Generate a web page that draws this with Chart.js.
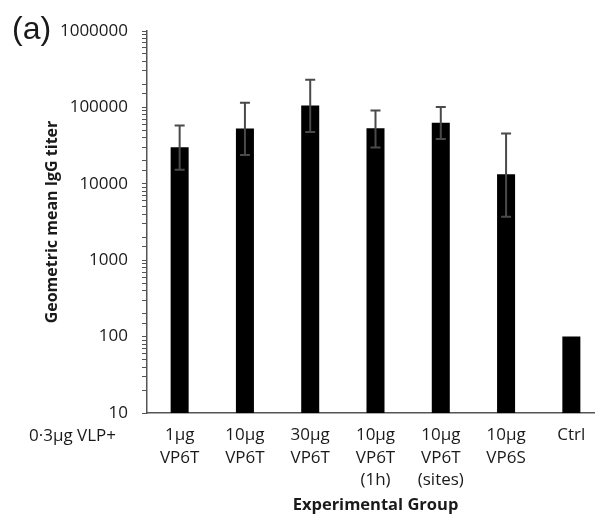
<!DOCTYPE html>
<html>
<head>
<meta charset="utf-8">
<script src="https://cdn.jsdelivr.net/npm/chart.js@4/dist/chart.umd.min.js"></script>
<style>
  html, body { margin: 0; padding: 0; background: #fff; overflow: hidden; }
  #wrap { width: 595px; height: 518px; overflow: hidden; }
  #box { width: 606px; height: 518px; }
</style>
</head>
<body>
<div id="wrap"><div id="box"><canvas id="iggChart"></canvas></div></div>
<script>
// categories (multi-line labels)
const groups = [
    ['1µg', 'VP6T'],
    ['10µg', 'VP6T'],
    ['30µg', 'VP6T'],
    ['10µg', 'VP6T', '(1h)'],
    ['10µg', 'VP6T', '(sites)'],
    ['10µg', 'VP6S'],
    ['Ctrl']
];
// geometric mean titers
const gmt = [30000, 53000, 106000, 53500, 63000, 13300, 100];
// error bar limits (null = no error bar)
const errLow  = [15300, 23800, 47500, 29900, 38500, 3700, null];
const errHigh = [58000, 115000, 230000, 91400, 101000, 45700, null];
const yTicksMajor = [10, 100, 1000, 10000, 100000, 1000000];

const textColor = '#1a1a1a';
const axisColor = '#555555';
const baseFont = 'Open Sans';

// error bars + extra labels
const extrasPlugin = {
    id: 'extras',
    afterDatasetsDraw(chart) {
        const ctx = chart.ctx;
        const xs = chart.scales.x, ys = chart.scales.y;
        ctx.save();
        ctx.strokeStyle = '#4a4a4a';
        ctx.lineWidth = 2;
        gmt.forEach(function(v, i) {
            if (errLow[i] == null) return;
            const x = xs.getPixelForValue(i);
            const yL = ys.getPixelForValue(errLow[i]);
            const yH = ys.getPixelForValue(errHigh[i]);
            ctx.beginPath();
            ctx.moveTo(x, yL); ctx.lineTo(x, yH);
            ctx.moveTo(x - 5, yL); ctx.lineTo(x + 5, yL);
            ctx.moveTo(x - 5, yH); ctx.lineTo(x + 5, yH);
            ctx.stroke();
        });
        ctx.restore();
    },
    afterDraw(chart) {
        const ctx = chart.ctx;
        const area = chart.chartArea;
        ctx.save();
        ctx.fillStyle = textColor;
        ctx.textBaseline = 'middle';
        ctx.textAlign = 'left';
        ctx.font = '32px "Liberation Sans", Arial, sans-serif';
        ctx.fillText('(a)', 12, area.top - 1);
        ctx.textAlign = 'right';
        ctx.font = '17px "' + baseFont + '"';
        ctx.fillText('0·3µg VLP+', 116, area.bottom + 23);
        ctx.restore();
    }
};

document.addEventListener('DOMContentLoaded', function() {
    const ctx = document.getElementById('iggChart').getContext('2d');
    new Chart(ctx, {
        type: 'bar',
        data: {
            labels: groups,
            datasets: [{
                label: 'Geometric mean IgG titer',
                data: gmt,
                backgroundColor: '#000000',
                borderWidth: 0,
                barPercentage: 0.276,
                categoryPercentage: 1.0
            }]
        },
        options: {
            responsive: true,
            maintainAspectRatio: false,
            animation: false,
            layout: { padding: { top: 31, right: 2, bottom: 0, left: 0 } },
            plugins: {
                legend: { display: false },
                tooltip: { enabled: false }
            },
            scales: {
                x: {
                    offset: true,
                    grid: { display: false, drawTicks: false },
                    border: { display: true, color: axisColor, width: 1.5 },
                    ticks: {
                        color: textColor,
                        padding: 11,
                        maxRotation: 0,
                        autoSkip: false,
                        font: { family: baseFont, size: 17, lineHeight: 1.32 }
                    },
                    title: {
                        display: true,
                        text: 'Experimental Group',
                        color: textColor,
                        font: { family: baseFont, size: 16.5, weight: 'bold', lineHeight: 1.2 },
                        padding: { top: 0, bottom: 3 }
                    },
                    afterFit: function(scale) { scale.height = 105; }
                },
                y: {
                    type: 'logarithmic',
                    min: 10,
                    max: 1000000,
                    grid: {
                        drawOnChartArea: false,
                        drawTicks: true,
                        tickLength: 5,
                        color: axisColor,
                        lineWidth: 1
                    },
                    border: { display: true, color: axisColor, width: 1.5 },
                    ticks: {
                        autoSkip: false,
                        color: textColor,
                        padding: 14,
                        font: { family: baseFont, size: 17 },
                        callback: function(value) {
                            const v = Math.round(value);
                            return yTicksMajor.includes(v) ? String(v) : '';
                        }
                    },
                    title: {
                        display: true,
                        text: 'Geometric mean IgG titer',
                        color: textColor,
                        font: { family: baseFont, size: 16, weight: 'bold', lineHeight: 1.2 },
                        padding: { top: 43, bottom: 0 }
                    },
                    afterFit: function(scale) { scale.width = 147; }
                }
            }
        },
        plugins: [extrasPlugin]
    });
});
</script>
</body>
</html>
